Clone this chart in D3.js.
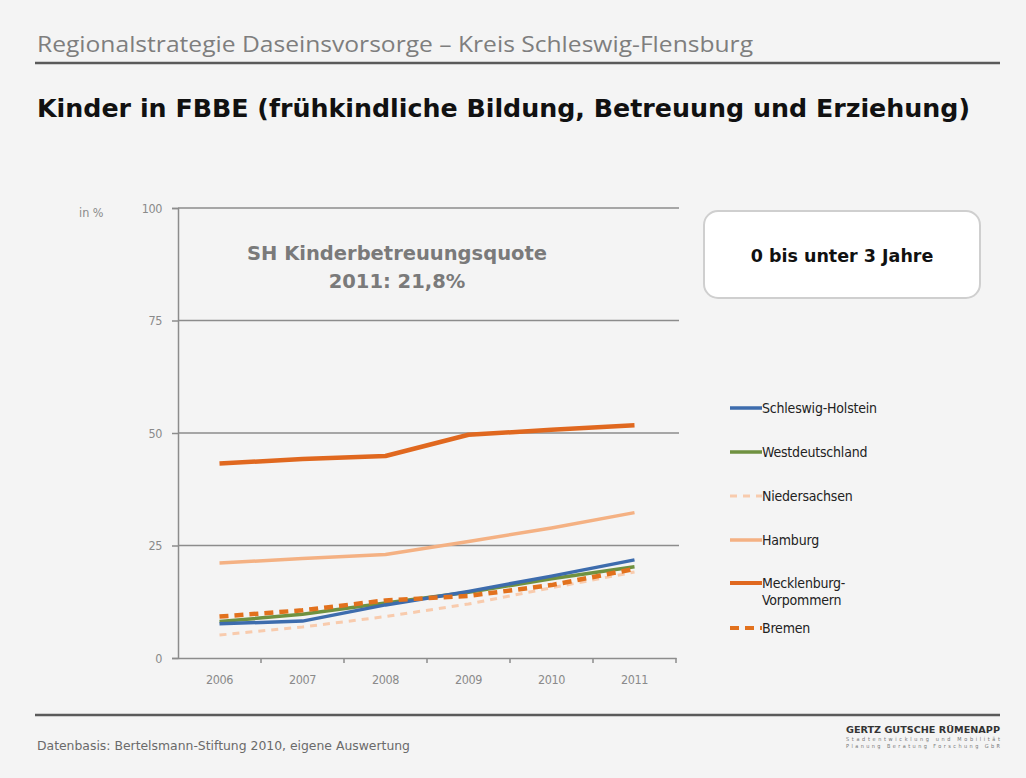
<!DOCTYPE html>
<html lang="de">
<head>
<meta charset="utf-8">
<script src="https://cdn.jsdelivr.net/npm/d3@7"></script>
<style>
  html, body { margin: 0; padding: 0; background: #f4f4f4; }
  svg { display: block; }
</style>
</head>
<body>
<svg id="chart" width="1026" height="778"></svg>
<script>
// Kinderbetreuungsquote 0 bis unter 3 Jahre, in %
const years = ["2006", "2007", "2008", "2009", "2010", "2011"];
const schleswigHolstein = [7.6, 8.2, 11.8, 14.8, 18.2, 21.8];
const westdeutschland = [8.1, 9.7, 12.2, 14.6, 17.6, 20.3];
const niedersachsen = [5.1, 6.9, 9.2, 12.0, 15.6, 19.1];
const hamburg = [21.1, 22.1, 23.0, 25.9, 28.9, 32.3];
const mecklenburgVorpommern = [43.2, 44.2, 44.9, 49.6, 50.7, 51.7];
const bremen = [9.2, 10.6, 12.8, 13.8, 16.2, 19.8];
const yTicks = [0, 25, 50, 75, 100];

const seriesNames = ["Schleswig-Holstein", "Westdeutschland", "Niedersachsen", "Hamburg", "Mecklenburg-Vorpommern", "Bremen"];
const seriesValues = [schleswigHolstein, westdeutschland, niedersachsen, hamburg, mecklenburgVorpommern, bremen];
const seriesStyle = [
  { color: "#3d6cad", width: 3.5, dash: null },
  { color: "#6f9140", width: 3.5, dash: null },
  { color: "#f8cbad", width: 3, dash: "7,6" },
  { color: "#f4b183", width: 3.5, dash: null },
  { color: "#e0681f", width: 4.5, dash: null },
  { color: "#e2711d", width: 4.5, dash: "9,6" }
];
// draw order: lightest lines first so that the dashed Bremen line stays on top
const drawOrder = [2, 3, 4, 1, 0, 5];

const svg = d3.select("#chart");

// page header
svg.append("text")
  .attr("x", 37).attr("y", 52)
  .attr("font-family", "Liberation Sans Narrow, Open Sans, sans-serif")
  .attr("font-size", 21).attr("fill", "#7e7e7e")
  .attr("textLength", 716).attr("lengthAdjust", "spacingAndGlyphs")
  .text("Regionalstrategie Daseinsvorsorge – Kreis Schleswig-Flensburg");
svg.append("line")
  .attr("x1", 35).attr("x2", 1000).attr("y1", 63).attr("y2", 63)
  .attr("stroke", "#5a5a5a").attr("stroke-width", 2.5);

svg.append("text")
  .attr("x", 37).attr("y", 117)
  .attr("font-family", "DejaVu Sans, Verdana, sans-serif")
  .attr("font-weight", "bold")
  .attr("font-size", 24).attr("fill", "#111")
  .attr("textLength", 933).attr("lengthAdjust", "spacingAndGlyphs")
  .text("Kinder in FBBE (frühkindliche Bildung, Betreuung und Erziehung)");

// plot area
const plot = { left: 178, right: 676, top: 208, bottom: 658 };

const x = d3.scaleBand().domain(years).range([plot.left, plot.right]);
const y = d3.scaleLinear().domain([0, 100]).range([plot.bottom, plot.top]);

const g = svg.append("g");

// horizontal gridlines
g.append("g")
  .selectAll("line")
  .data(yTicks.filter(t => t > 0))
  .join("line")
  .attr("x1", plot.left).attr("x2", plot.right + 3)
  .attr("y1", d => y(d)).attr("y2", d => y(d))
  .attr("stroke", "#8c8c8c").attr("stroke-width", 1.5);

const tickFont = "DejaVu Sans Condensed, Open Sans, sans-serif";

// y axis
const yAxis = g.append("g")
  .attr("transform", `translate(${plot.left},0)`)
  .call(d3.axisLeft(y).tickValues(yTicks).tickSize(6).tickPadding(10));
yAxis.select(".domain").attr("stroke", "#8c8c8c").attr("stroke-width", 1.5);
yAxis.selectAll(".tick line").attr("stroke", "#8c8c8c").attr("stroke-width", 1.5);
yAxis.selectAll(".tick text")
  .attr("font-family", tickFont)
  .attr("font-size", 12.5).attr("fill", "#8a8a8a")
  .attr("letter-spacing", -0.4);

svg.append("text")
  .attr("x", 79).attr("y", 217)
  .attr("font-family", tickFont)
  .attr("font-size", 12.5).attr("fill", "#8a8a8a")
  .text("in %");

// x axis with tick marks on the category boundaries
const xAxis = g.append("g")
  .attr("transform", `translate(0,${plot.bottom})`)
  .call(d3.axisBottom(x).tickSize(0).tickPadding(17));
xAxis.select(".domain").attr("stroke", "#8c8c8c").attr("stroke-width", 1.5);
xAxis.selectAll(".tick text")
  .attr("font-family", tickFont)
  .attr("font-size", 12.5).attr("fill", "#8a8a8a")
  .attr("letter-spacing", -0.4);
const bounds = years.map(yr => x(yr)).concat([x(years[years.length - 1]) + x.bandwidth()]);
xAxis.selectAll(".bound")
  .data(bounds.slice(1))
  .join("line")
  .attr("class", "bound")
  .attr("x1", d => d).attr("x2", d => d)
  .attr("y1", 0).attr("y2", 5)
  .attr("stroke", "#8c8c8c").attr("stroke-width", 1.5);

// series lines
const line = d3.line()
  .x((d, i) => x(years[i]) + x.bandwidth() / 2)
  .y(d => y(d));

g.append("g")
  .selectAll("path")
  .data(drawOrder)
  .join("path")
  .attr("d", i => line(seriesValues[i]))
  .attr("fill", "none")
  .attr("stroke", i => seriesStyle[i].color)
  .attr("stroke-width", i => seriesStyle[i].width)
  .attr("stroke-dasharray", i => seriesStyle[i].dash)
  .attr("stroke-linejoin", "round");

// annotation
const note = svg.append("text")
  .attr("text-anchor", "middle")
  .attr("font-family", "DejaVu Sans, Verdana, sans-serif")
  .attr("font-weight", "bold")
  .attr("font-size", 19.5).attr("fill", "#7a7a7a");
note.append("tspan").attr("x", 397).attr("y", 260).text("SH Kinderbetreuungsquote");
note.append("tspan").attr("x", 397).attr("y", 288).text("2011: 21,8%");

// age group box
svg.append("rect")
  .attr("x", 704).attr("y", 211).attr("width", 276).attr("height", 87)
  .attr("rx", 14).attr("ry", 14)
  .attr("fill", "#ffffff").attr("stroke", "#cfcfcf").attr("stroke-width", 2);
svg.append("text")
  .attr("x", 842).attr("y", 262)
  .attr("text-anchor", "middle")
  .attr("font-family", "DejaVu Sans, Verdana, sans-serif")
  .attr("font-weight", "bold")
  .attr("font-size", 17.5).attr("fill", "#111")
  .text("0 bis unter 3 Jahre");

// legend
const legendY = [408, 452, 496, 540, 583, 628];
const legend = svg.append("g");
const items = legend.selectAll("g")
  .data(seriesNames.map((n, i) => ({ name: n, i })))
  .join("g")
  .attr("transform", d => `translate(730,${legendY[d.i]})`);
items.append("line")
  .attr("x1", 0).attr("x2", 32).attr("y1", 0).attr("y2", 0)
  .attr("stroke", d => seriesStyle[d.i].color)
  .attr("stroke-width", d => Math.min(seriesStyle[d.i].width, 4))
  .attr("stroke-dasharray", d => seriesStyle[d.i].dash);
items.append("text")
  .attr("x", 32).attr("y", 5)
  .attr("font-family", tickFont)
  .attr("font-size", 14).attr("fill", "#222")
  .attr("letter-spacing", -0.2)
  .each(function (d) {
    const t = d3.select(this);
    if (d.name === "Mecklenburg-Vorpommern") {
      t.append("tspan").attr("x", 32).attr("dy", 0).text("Mecklenburg-");
      t.append("tspan").attr("x", 32).attr("dy", 17).text("Vorpommern");
    } else {
      t.text(d.name);
    }
  });

// footer
svg.append("line")
  .attr("x1", 35).attr("x2", 1000).attr("y1", 715).attr("y2", 715)
  .attr("stroke", "#5a5a5a").attr("stroke-width", 2.5);
svg.append("text")
  .attr("x", 37).attr("y", 750)
  .attr("font-family", tickFont)
  .attr("font-size", 12.5).attr("fill", "#6a6a6a")
  .attr("textLength", 373).attr("lengthAdjust", "spacingAndGlyphs")
  .text("Datenbasis: Bertelsmann-Stiftung 2010, eigene Auswertung");

svg.append("text")
  .attr("x", 1000).attr("y", 733)
  .attr("text-anchor", "end")
  .attr("font-family", "DejaVu Sans Condensed, sans-serif")
  .attr("font-weight", "bold")
  .attr("font-size", 9).attr("fill", "#333")
  .attr("textLength", 154).attr("lengthAdjust", "spacingAndGlyphs")
  .text("GERTZ GUTSCHE RÜMENAPP");
svg.append("text")
  .attr("x", 1000).attr("y", 741)
  .attr("text-anchor", "end")
  .attr("font-family", "DejaVu Sans Condensed, sans-serif")
  .attr("font-size", 5.5).attr("fill", "#777")
  .attr("textLength", 154).attr("lengthAdjust", "spacing")
  .text("Stadtentwicklung und Mobilität");
svg.append("text")
  .attr("x", 1000).attr("y", 748)
  .attr("text-anchor", "end")
  .attr("font-family", "DejaVu Sans Condensed, sans-serif")
  .attr("font-size", 5.5).attr("fill", "#777")
  .attr("textLength", 154).attr("lengthAdjust", "spacing")
  .text("Planung Beratung Forschung GbR");
</script>
</body>
</html>
